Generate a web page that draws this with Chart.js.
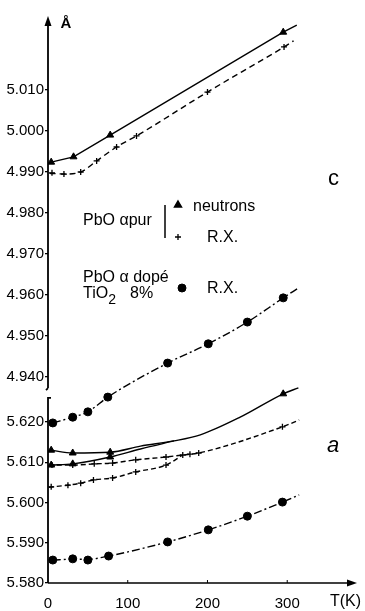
<!DOCTYPE html>
<html>
<head>
<meta charset="utf-8">
<script src="https://cdn.jsdelivr.net/npm/chart.js@4.4.1/dist/chart.umd.min.js"></script>
<style>
  html, body { margin: 0; padding: 0; background: #fff; }
  #wrap { width: 365px; height: 611px; position: relative; }
</style>
</head>
<body>
<div id="wrap"><canvas id="chart" width="365" height="611"></canvas></div>
<script>
// ---------- tick labels ----------
const xTicks = [0, 100, 200, 300];
const cTicks = [4.940, 4.950, 4.960, 4.970, 4.980, 4.990, 5.000, 5.010];
const aTicks = [5.580, 5.590, 5.600, 5.610, 5.620];

// ---------- parameter c ----------
// PbO alpha pure, neutrons (triangles)
const cNeutT = [4, 32, 78, 295];
const cNeut  = [4.9924, 4.9937, 4.9990, 5.0241];
const cNeutCurveT = [4, 32, 78, 295, 312];
const cNeutCurve  = [4.9924, 4.9937, 4.9990, 5.0241, 5.0258];
// PbO alpha pure, R.X. (crosses)
const cXrayT = [5, 20, 41, 61, 86, 111, 200, 296];
const cXray  = [4.9898, 4.9895, 4.9900, 4.9927, 4.9961, 4.9988, 5.0095, 5.0205];
const cXrayCurveT = [2, 20, 41, 61, 86, 111, 200, 296, 308];
const cXrayCurve  = [4.9897, 4.9895, 4.9900, 4.9927, 4.9961, 4.9988, 5.0095, 5.0205, 5.0220];
// PbO alpha doped TiO2 8%, R.X. (circles)
const cDopT = [6, 31, 50, 75, 150, 201, 250, 295];
const cDop  = [4.9288, 4.9302, 4.9315, 4.9351, 4.9434, 4.9481, 4.9534, 4.9593];
const cDopCurveT = [6, 31, 50, 75, 150, 201, 250, 295, 314];
const cDopCurve  = [4.9288, 4.9302, 4.9315, 4.9351, 4.9434, 4.9481, 4.9534, 4.9593, 4.9617];

// ---------- parameter a ----------
// doped, R.X. (circles)
const aDopT = [6, 31, 50, 76, 150, 201, 250, 294];
const aDop  = [5.5857, 5.5860, 5.5857, 5.5867, 5.5902, 5.5932, 5.5966, 5.6001];
const aDopCurveT = [6, 31, 50, 76, 150, 201, 250, 294, 315];
const aDopCurve  = [5.5857, 5.5859, 5.5859, 5.5867, 5.5902, 5.5932, 5.5966, 5.6001, 5.6019];
// pure, neutrons (triangles), two branches at low T
const aNeutT = [4, 31, 78, 4, 31, 78, 295];
const aNeut  = [5.6130, 5.6123, 5.6125, 5.6093, 5.6096, 5.6113, 5.6270];
const aNeutHiCurveT = [4, 31, 78, 116, 158, 191, 241, 295, 314];
const aNeutHiCurve  = [5.6130, 5.6123, 5.6125, 5.6140, 5.6153, 5.6168, 5.6212, 5.6270, 5.6285];
const aNeutLoCurveT = [4, 31, 78, 116, 158];
const aNeutLoCurve  = [5.6093, 5.6096, 5.6113, 5.6133, 5.6153];
// pure, R.X. (crosses), two branches at low T
const aXrayHiT = [5, 31, 58, 81, 110, 148, 169, 178, 189, 294];
const aXrayHi  = [5.6093, 5.6093, 5.6096, 5.6098, 5.6106, 5.6113, 5.6118, 5.6120, 5.6123, 5.6188];
const aXrayHiCurveT = [1, 31, 58, 81, 110, 148, 169, 189, 294, 315];
const aXrayHiCurve  = [5.6093, 5.6093, 5.6096, 5.6098, 5.6106, 5.6113, 5.6118, 5.6123, 5.6188, 5.6205];
const aXrayLoT = [4, 25, 41, 57, 81, 110, 148];
const aXrayLo  = [5.6039, 5.6043, 5.6048, 5.6056, 5.6061, 5.6076, 5.6093];
const aXrayLoCurveT = [1, 25, 41, 57, 81, 110, 148, 169];
const aXrayLoCurve  = [5.6038, 5.6043, 5.6048, 5.6056, 5.6061, 5.6076, 5.6093, 5.6118];

// ---------- helpers ----------
const pts = (xs, ys) => xs.map((x, i) => ({ x: x, y: ys[i] }));
const BLACK = '#000';
const TEXT_FONT = '"Liberation Sans", Arial, sans-serif';

function markers(data, axis, style, radius) {
  return {
    type: 'scatter', data: data, yAxisID: axis, showLine: false,
    pointStyle: style, pointRadius: radius, pointHoverRadius: radius,
    pointBackgroundColor: BLACK, pointBorderColor: BLACK,
    pointBorderWidth: style === 'cross' ? 1.3 : 1
  };
}
function curve(data, axis, dash, tension) {
  return {
    type: 'scatter', data: data, yAxisID: axis, showLine: true,
    borderColor: BLACK, borderWidth: 1.4, borderDash: dash,
    pointRadius: 0, pointHoverRadius: 0, fill: false,
    tension: tension, cubicInterpolationMode: tension ? 'monotone' : 'default'
  };
}

const SOLID = [];
const DASH = [6, 4];
const DASHDOT = [8, 3, 2, 3];

const datasets = [
  curve(pts(cNeutCurveT, cNeutCurve), 'yc', SOLID, 0),
  markers(pts(cNeutT, cNeut), 'yc', 'triangle', 4),
  curve(pts(cXrayCurveT, cXrayCurve), 'yc', DASH, 0.4),
  markers(pts(cXrayT, cXray), 'yc', 'cross', 3),
  curve(pts(cDopCurveT, cDopCurve), 'yc', DASHDOT, 0.4),
  markers(pts(cDopT, cDop), 'yc', 'circle', 4),

  curve(pts(aDopCurveT, aDopCurve), 'ya', DASHDOT, 0.4),
  markers(pts(aDopT, aDop), 'ya', 'circle', 4),
  curve(pts(aNeutHiCurveT, aNeutHiCurve), 'ya', SOLID, 0.4),
  curve(pts(aNeutLoCurveT, aNeutLoCurve), 'ya', SOLID, 0.4),
  markers(pts(aNeutT, aNeut), 'ya', 'triangle', 4),
  curve(pts(aXrayHiCurveT, aXrayHiCurve), 'ya', [5, 3], 0.4),
  curve(pts(aXrayLoCurveT, aXrayLoCurve), 'ya', [5, 3], 0.4),
  markers(pts(aXrayHiT, aXrayHi), 'ya', 'cross', 3),
  markers(pts(aXrayLoT, aXrayLo), 'ya', 'cross', 3)
];

// ---------- decorations: broken axis, arrows, labels, key ----------
const deco = {
  id: 'deco',
  afterLayout(chart) {
    // both y scales share the same left strip, so the inner one may draw its labels there
    const yc = chart.scales.yc, ya = chart.scales.ya;
    ya.left = yc.left;
  },
  afterDraw(chart) {
    const { ctx, chartArea: ca, scales } = chart;
    const xs = scales.x, yc = scales.yc, ya = scales.ya;
    const x0 = ca.left;
    ctx.save();
    ctx.strokeStyle = BLACK; ctx.fillStyle = BLACK; ctx.lineWidth = 1.8;
    ctx.setLineDash([]);

    // upper part of y axis (parameter c) with arrow
    const upEnd = yc.getPixelForValue(4.9373);
    ctx.beginPath(); ctx.moveTo(x0, upEnd); ctx.lineTo(x0, ca.top + 8); ctx.stroke();
    ctx.beginPath(); ctx.moveTo(x0, ca.top + 1); ctx.lineTo(x0 - 3.5, ca.top + 11); ctx.lineTo(x0 + 3.5, ca.top + 11); ctx.closePath(); ctx.fill();
    ctx.beginPath(); ctx.moveTo(x0, upEnd); ctx.lineTo(x0 - 2, upEnd + 2); ctx.stroke();

    // lower part of y axis (parameter a)
    const loStart = ya.getPixelForValue(5.6260);
    ctx.beginPath(); ctx.moveTo(x0 + 3, loStart); ctx.lineTo(x0, loStart); ctx.lineTo(x0, ca.bottom); ctx.stroke();

    // x axis with arrow
    ctx.lineWidth = 1.6;
    ctx.beginPath(); ctx.moveTo(x0, ca.bottom); ctx.lineTo(ca.right - 6, ca.bottom); ctx.stroke();
    ctx.beginPath(); ctx.moveTo(ca.right + 2, ca.bottom); ctx.lineTo(ca.right - 8, ca.bottom - 3.5); ctx.lineTo(ca.right - 8, ca.bottom + 3.5); ctx.closePath(); ctx.fill();
    ctx.lineWidth = 1;
    xTicks.forEach(v => {
      if (v === 0) return;
      const px = xs.getPixelForValue(v);
      ctx.beginPath(); ctx.moveTo(px, ca.bottom); ctx.lineTo(px, ca.bottom - 3); ctx.stroke();
    });

    // texts
    ctx.textBaseline = 'alphabetic';
    ctx.textAlign = 'center';
    ctx.font = 'bold 15px ' + TEXT_FONT;
    ctx.fillText('Å', 66, 28);
    ctx.textAlign = 'left';
    ctx.font = '16px ' + TEXT_FONT;
    ctx.fillText('T(K)', 330, 606);
    ctx.font = '22px ' + TEXT_FONT;
    ctx.fillText('c', 328, 185);
    ctx.font = 'italic 22px ' + TEXT_FONT;
    ctx.fillText('a', 327, 452);

    // key
    ctx.font = '16px ' + TEXT_FONT;
    ctx.fillText('PbO αpur', 83, 225);
    ctx.lineWidth = 1.5;
    ctx.beginPath(); ctx.moveTo(165, 205); ctx.lineTo(165, 238); ctx.stroke();
    Chart.helpers.drawPoint(ctx, { pointStyle: 'triangle', radius: 4, rotation: 0, borderWidth: 1 }, 178, 205);
    ctx.fillText('neutrons', 193, 211);
    ctx.lineWidth = 1.3;
    Chart.helpers.drawPoint(ctx, { pointStyle: 'cross', radius: 3, rotation: 0, borderWidth: 1.3 }, 178, 237);
    ctx.fillText('R.X.', 207, 242);

    ctx.fillText('PbO α dopé', 83, 282);
    ctx.fillText('TiO', 83, 298);
    const w = ctx.measureText('TiO').width;
    ctx.font = '14px ' + TEXT_FONT;
    ctx.fillText('2', 83 + w, 304);
    ctx.font = '16px ' + TEXT_FONT;
    ctx.fillText('8%', 130, 298);
    ctx.lineWidth = 1;
    Chart.helpers.drawPoint(ctx, { pointStyle: 'circle', radius: 4, rotation: 0, borderWidth: 1 }, 182, 288);
    ctx.fillText('R.X.', 207, 293);
    ctx.restore();
  }
};

Chart.defaults.font.family = TEXT_FONT;
Chart.defaults.color = BLACK;

const yTickFont = { family: TEXT_FONT, size: 15 };

new Chart(document.getElementById('chart'), {
  type: 'scatter',
  data: { datasets: datasets },
  options: {
    responsive: false,
    animation: false,
    devicePixelRatio: 1,
    layout: { padding: { top: 15, right: 10, bottom: 0, left: 0 } },
    plugins: { legend: { display: false }, tooltip: { enabled: false } },
    scales: {
      x: {
        type: 'linear', min: 0, max: 385,
        afterBuildTicks: s => { s.ticks = xTicks.map(v => ({ value: v })); },
        afterFit: s => { s.height = 28; },
        grid: { display: false }, border: { display: false },
        ticks: { padding: 4, color: BLACK, font: { family: TEXT_FONT, size: 15 }, maxRotation: 0,
                 callback: v => String(v) }
      },
      yc: {
        type: 'linear', position: 'left', weight: 1,
        min: 4.88976, max: 5.02829,
        afterBuildTicks: s => { s.ticks = cTicks.map(v => ({ value: v })); },
        afterFit: s => { s.width = 48; },
        grid: { drawOnChartArea: false, drawTicks: true, tickLength: 3, color: BLACK, lineWidth: 1.3 },
        border: { display: false },
        ticks: { padding: 1, color: BLACK, font: yTickFont,
                 callback: v => Number(v).toFixed(3) }
      },
      ya: {
        type: 'linear', position: 'left', weight: 0,
        min: 5.580, max: 5.72112,
        afterBuildTicks: s => { s.ticks = aTicks.map(v => ({ value: v })); },
        afterFit: s => { s.width = 0; },
        grid: { drawOnChartArea: false, drawTicks: true, tickLength: 3, color: BLACK, lineWidth: 1.3 },
        border: { display: false },
        ticks: { padding: 1, color: BLACK, font: yTickFont,
                 callback: v => Number(v).toFixed(3) }
      }
    }
  },
  plugins: [deco]
});
</script>
</body>
</html>
